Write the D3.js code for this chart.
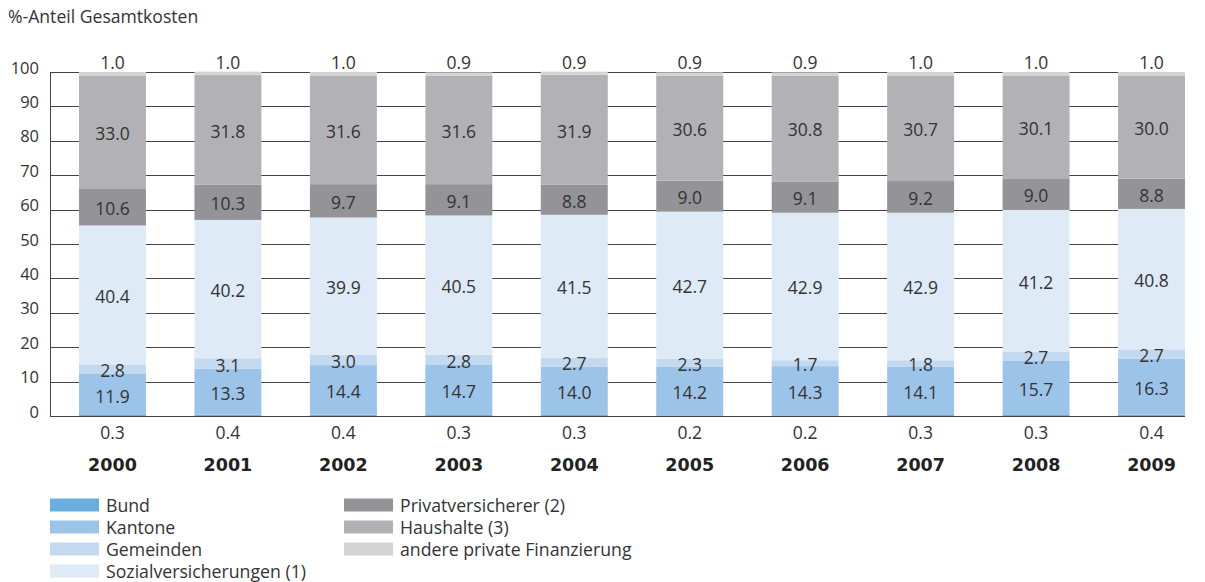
<!DOCTYPE html>
<html>
<head>
<meta charset="utf-8">
<script src="https://cdn.jsdelivr.net/npm/d3@7"></script>
<style>
  html, body { margin: 0; padding: 0; background: #fff; }
  svg text { font-family: "Open Sans", Roboto, "Liberation Sans", sans-serif; fill: #333; }
</style>
</head>
<body>
<svg id="chart" width="1205" height="582"></svg>
<script>
// Financing shares of total health costs, by source (percent)
const years = ["2000", "2001", "2002", "2003", "2004", "2005", "2006", "2007", "2008", "2009"];
const bund = [0.3, 0.4, 0.4, 0.3, 0.3, 0.2, 0.2, 0.3, 0.3, 0.4];
const kantone = [11.9, 13.3, 14.4, 14.7, 14.0, 14.2, 14.3, 14.1, 15.7, 16.3];
const gemeinden = [2.8, 3.1, 3.0, 2.8, 2.7, 2.3, 1.7, 1.8, 2.7, 2.7];
const sozialversicherungen = [40.4, 40.2, 39.9, 40.5, 41.5, 42.7, 42.9, 42.9, 41.2, 40.8];
const privatversicherer = [10.6, 10.3, 9.7, 9.1, 8.8, 9.0, 9.1, 9.2, 9.0, 8.8];
const haushalte = [33.0, 31.8, 31.6, 31.6, 31.9, 30.6, 30.8, 30.7, 30.1, 30.0];
const anderePrivate = [1.0, 1.0, 1.0, 0.9, 0.9, 0.9, 0.9, 1.0, 1.0, 1.0];
const yTicks = [0, 10, 20, 30, 40, 50, 60, 70, 80, 90, 100];

const seriesNames = ["Bund", "Kantone", "Gemeinden", "Sozialversicherungen (1)",
                     "Privatversicherer (2)", "Haushalte (3)", "andere private Finanzierung"];
const seriesValues = [bund, kantone, gemeinden, sozialversicherungen,
                      privatversicherer, haushalte, anderePrivate];
const colors = ["#6aaee0", "#9cc4e9", "#c2d9f0", "#deeaf6", "#949498", "#b2b2b6", "#d4d4d6"];

const svg = d3.select("#chart");

const y = d3.scaleLinear().domain([0, 100]).range([416, 72]);
const x = d3.scaleBand().domain(years).range([79, 1185]).paddingInner(0.42).paddingOuter(0);

// title
svg.append("text").attr("x", 8).attr("y", 23).style("font-size", "17.6px")
  .text("%-Anteil Gesamtkosten");

// gridlines
svg.append("g").selectAll("line").data(yTicks).join("line")
  .attr("x1", 50).attr("x2", 1185)
  .attr("y1", d => Math.round(y(d)) + 0.5).attr("y2", d => Math.round(y(d)) + 0.5)
  .attr("stroke", "#444").attr("stroke-width", 1);

// vertical axis line
svg.append("line").attr("x1", 50.5).attr("x2", 50.5)
  .attr("y1", y(100)).attr("y2", y(0) + 1)
  .attr("stroke", "#444");

// y tick labels
svg.append("g").selectAll("text").data(yTicks).join("text")
  .attr("x", 39).attr("y", d => y(d) - 5)
  .attr("text-anchor", "end").attr("dominant-baseline", "central")
  .style("font-size", "16.5px")
  .text(d => d);

// stacked bars
const rows = years.map((yr, i) => {
  const r = { year: yr };
  seriesNames.forEach((n, k) => { r[n] = seriesValues[k][i]; });
  return r;
});
const stacked = d3.stack().keys(seriesNames)(rows);

const layers = svg.append("g").selectAll("g").data(stacked).join("g")
  .attr("fill", (d, i) => colors[i]);
layers.selectAll("rect").data(d => d).join("rect")
  .attr("x", d => x(d.data.year))
  .attr("width", x.bandwidth())
  .attr("y", d => y(d[1]))
  .attr("height", d => y(d[0]) - y(d[1]));

// value labels
const fmt = d3.format(".1f");
stacked.forEach((layer, k) => {
  svg.append("g").selectAll("text").data(layer).join("text")
    .attr("x", d => x(d.data.year) + x.bandwidth() / 2)
    .attr("y", d => {
      if (k === 0) return y(0) + 16;
      if (k === seriesNames.length - 1) return y(100) - 10;
      return y((d[0] + d[1]) / 2) + 1;
    })
    .attr("text-anchor", "middle").attr("dominant-baseline", "central")
    .style("font-size", "17.5px")
    .text(d => fmt(d[1] - d[0] + 1e-9));
});

// year labels
svg.append("g").selectAll("text").data(years).join("text")
  .attr("x", d => x(d) + x.bandwidth() / 2).attr("y", 465)
  .attr("text-anchor", "middle").attr("dominant-baseline", "central")
  .style("font-family", "'DejaVu Sans', sans-serif")
  .style("font-size", "17.5px").style("font-weight", "bold").style("fill", "#222")
  .text(d => d);

// legend
const legendPos = [
  [50, 505], [50, 527], [50, 549], [50, 571],
  [344, 505], [344, 527], [344, 549]
];
const legend = svg.append("g").selectAll("g").data(seriesNames).join("g")
  .attr("transform", (d, i) => `translate(${legendPos[i][0]},${legendPos[i][1]})`);
legend.append("rect").attr("x", 0).attr("y", -6.5).attr("width", 49).attr("height", 13)
  .attr("fill", (d, i) => colors[i]);
legend.append("text").attr("x", 56).attr("y", 0).attr("dominant-baseline", "central")
  .style("font-size", "17.7px").text(d => d);
</script>
</body>
</html>
